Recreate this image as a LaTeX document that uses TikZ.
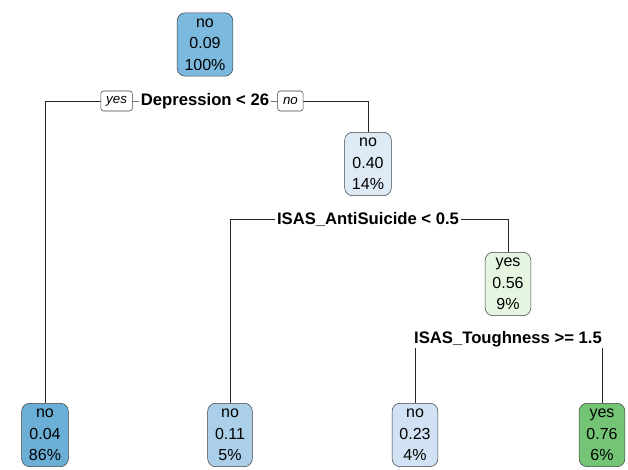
\documentclass[tikz,border=0pt]{standalone}
\usepackage{fontspec}
\setmainfont{Liberation Sans}
\usepackage{xcolor}
\usetikzlibrary{positioning, backgrounds}

\definecolor{blueA}{RGB}{107,174,214}
\definecolor{blueB}{RGB}{124,185,223}
\definecolor{blueC}{RGB}{172,207,233}
\definecolor{blueD}{RGB}{208,226,243}
\definecolor{blueE}{RGB}{222,235,247}
\definecolor{greenA}{RGB}{229,245,224}
\definecolor{greenB}{RGB}{116,196,118}

\begin{document}
\begin{tikzpicture}[
    x=0.75pt, y=-0.75pt,
    box/.style={rectangle, rounded corners=6pt, draw=black!75, thin, align=center,
                font=\fontsize{12}{16}\selectfont, inner xsep=5.5pt, inner ysep=4.5pt},
    split/.style={fill=white, font=\fontsize{12.5}{14}\selectfont\bfseries,
                  inner xsep=1.5pt, inner ysep=1pt},
    tag/.style={rectangle, rounded corners=2pt, draw=black!75, fill=white,
                font=\fontsize{10}{11}\selectfont\itshape, inner xsep=4pt, minimum height=15pt},
    branch/.style={draw=black!85, line width=0.7pt}
  ]
  \useasboundingbox (0,0) rectangle (628,470);
  \clip (0,0) rectangle (628,470);

  % nodes of the tree
  \node[box, fill=blueB] (n1) at (205,44.5) {no\\0.09\\100\%};
  \node[box, fill=blueE] (n2) at (368,164) {no\\0.40\\14\%};
  \node[box, fill=greenA] (n3) at (508,284) {yes\\0.56\\9\%};
  \node[box, fill=blueA, anchor=north] (n4) at (45,403) {no\\0.04\\86\%};
  \node[box, fill=blueC, anchor=north] (n5) at (230,403) {no\\0.11\\5\%};
  \node[box, fill=blueD, anchor=north] (n6) at (415,403) {no\\0.23\\4\%};
  \node[box, fill=greenB, anchor=north] (n7) at (602,403) {yes\\0.76\\6\%};

  % split labels
  \node[split] (s1) at (205,101) {Depression < 26};
  \node[tag, left=4.5pt of s1] (yes) {yes};
  \node[tag, right=4.5pt of s1] (no) {no};
  \node[split] (s2) at (368,219) {ISAS\_AntiSuicide < 0.5};
  \node[split] (s3) at (508,339) {ISAS\_Toughness >= 1.5};

  \begin{pgfonlayer}{background}
    \draw[branch] (n4.north) |- (s1.center) -| (n2.north);
    \draw[branch] (n5.north) |- (s2.center) -| (n3.north);
    \draw[branch] (n6.north) |- (s3.center) -| (n7.north);
  \end{pgfonlayer}
\end{tikzpicture}
\end{document}
